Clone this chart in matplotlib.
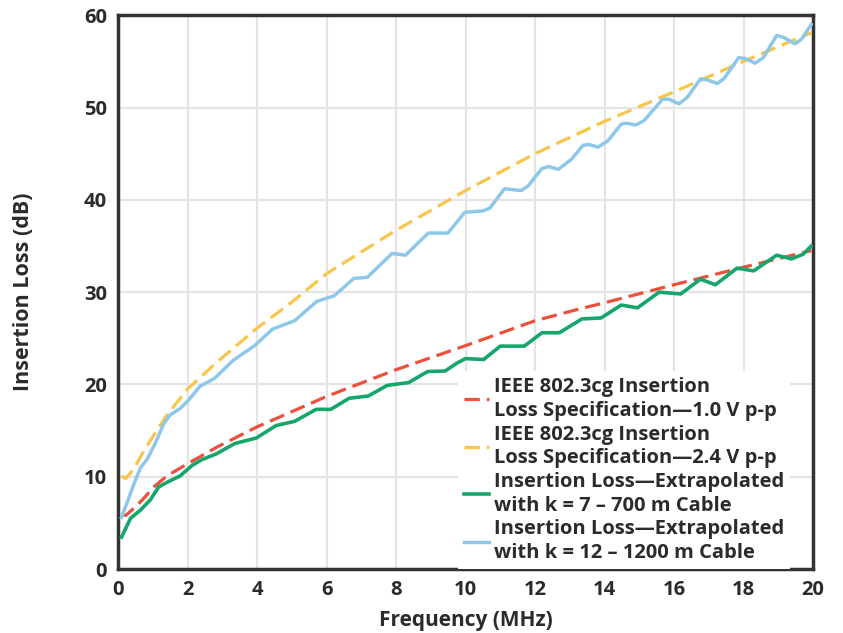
import matplotlib
matplotlib.use("Agg")
import matplotlib.pyplot as plt

plt.rcParams['font.family'] = ['Open Sans', 'DejaVu Sans']

# ---- data ----
red_x = [0.1, 0.22, 0.46, 0.74, 1.03, 1.41, 2.0, 2.84, 4.0, 5.03, 6.0, 8.0, 10.0, 12.0, 13.2, 14.0, 16.0, 18.0, 19.95]
red_y = [6.05, 5.8, 6.6, 7.65, 8.9, 10.1, 11.4, 13.2, 15.4, 17.1, 18.7, 21.6, 24.2, 26.9, 28.1, 28.85, 30.8, 32.7, 34.5]

yel_x = [0.1, 0.22, 0.46, 0.74, 1.03, 1.41, 2.0, 2.84, 4.0, 5.03, 6.0, 8.0, 10.0, 12.0, 14.0, 16.0, 18.0, 19.95]
yel_y = [10.1, 9.8, 10.85, 12.8, 14.5, 16.7, 19.5, 22.4, 26.1, 29.0, 32.0, 36.7, 41.0, 45.0, 48.5, 51.7, 55.0, 58.1]

grn_x = [0.1, 0.36, 0.65, 0.93, 1.17, 1.41, 1.79, 2.12, 2.41, 2.84, 3.36, 3.98, 4.55, 5.08, 5.7, 6.12,
         6.65, 7.2, 7.75, 8.36, 8.91, 9.41, 9.75, 10.0, 10.52, 11.0, 11.69, 12.2, 12.7, 13.35, 13.9,
         14.48, 14.95, 15.57, 16.19, 16.76, 17.19, 17.81, 18.29, 18.95, 19.38, 19.71, 19.95]
grn_y = [3.45, 5.5, 6.4, 7.5, 8.9, 9.4, 10.1, 11.2, 11.85, 12.5, 13.6, 14.2, 15.55, 16.0, 17.3, 17.3,
         18.5, 18.75, 19.9, 20.2, 21.4, 21.45, 22.3, 22.8, 22.7, 24.15, 24.15, 25.6, 25.6, 27.1, 27.2,
         28.6, 28.3, 30.0, 29.8, 31.4, 30.8, 32.6, 32.3, 34.0, 33.6, 34.1, 35.0]

blu_x = [0.1, 0.27, 0.46, 0.65, 0.84, 1.08, 1.31, 1.5, 1.79, 2.03, 2.36, 2.79, 3.31, 3.93, 4.45, 5.08,
         5.72, 6.22, 6.79, 7.17, 7.89, 8.27, 8.93, 9.49, 9.98, 10.5, 10.7, 11.12, 11.6, 11.8, 12.2, 12.4,
         12.67, 13.05, 13.38, 13.55, 13.81, 14.1, 14.48, 14.65, 14.9, 15.14, 15.67, 15.85, 16.14, 16.38,
         16.76, 16.95, 17.24, 17.43, 17.86, 18.05, 18.33, 18.57, 18.95, 19.15, 19.48, 19.67, 19.95]
blu_y = [5.6, 7.3, 9.25, 11.0, 11.9, 13.7, 15.7, 16.7, 17.4, 18.3, 19.8, 20.7, 22.6, 24.2, 26.0, 26.9,
         29.0, 29.6, 31.5, 31.6, 34.2, 34.0, 36.4, 36.4, 38.65, 38.8, 39.1, 41.2, 41.0, 41.5, 43.4, 43.6,
         43.3, 44.4, 45.9, 46.0, 45.7, 46.4, 48.2, 48.3, 48.1, 48.6, 50.9, 50.9, 50.4, 51.1,
         53.1, 53.0, 52.6, 53.1, 55.4, 55.3, 54.8, 55.4, 57.8, 57.6, 56.9, 57.4, 59.0]

labels = ["IEEE 802.3cg Insertion\nLoss Specification\u20141.0 V p-p",
          "IEEE 802.3cg Insertion\nLoss Specification\u20142.4 V p-p",
          "Insertion Loss\u2014Extrapolated\nwith k = 7 \u2013 700 m Cable",
          "Insertion Loss\u2014Extrapolated\nwith k = 12 \u2013 1200 m Cable"]

x_ticks = [0, 2, 4, 6, 8, 10, 12, 14, 16, 18, 20]
y_ticks = [0, 10, 20, 30, 40, 50, 60]

# ---- figure ----
fig = plt.figure(figsize=(8.43, 6.33), dpi=100)
ax = fig.add_axes([0.140, 0.101, 0.8245, 0.875])

lw = 2.3
ax.plot(red_x, red_y, color="#E9513D", lw=lw, dashes=(4.8, 2.2), label=labels[0], zorder=3)
ax.plot(yel_x, yel_y, color="#F9C64C", lw=lw, dashes=(4.8, 2.2), label=labels[1], zorder=3)
ax.plot(grn_x, grn_y, color="#16A56A", lw=lw + 0.3, label=labels[2], zorder=3)
ax.plot(blu_x, blu_y, color="#8DC8EA", lw=lw + 0.2, label=labels[3], zorder=3)

ax.set_xlim(0, 20)
ax.set_ylim(0, 60)
ax.set_xticks(x_ticks)
ax.set_yticks(y_ticks)
ax.grid(True, color="#E4E4E4", lw=1.6, zorder=0)
ax.set_axisbelow(True)
ax.tick_params(length=0, labelsize=14.5, pad=8, colors="#2B2B2B")
for lab in ax.get_xticklabels() + ax.get_yticklabels():
    lab.set_fontweight("bold")
for s in ax.spines.values():
    s.set_linewidth(2.5)
    s.set_color("#333333")

ax.set_xlabel("Frequency (MHz)", fontsize=15, fontweight="bold", color="#2B2B2B", labelpad=7)
ax.set_ylabel("Insertion Loss (dB)", fontsize=15.5, fontweight="bold", color="#2B2B2B", labelpad=36)

leg = ax.legend(loc="lower left", bbox_to_anchor=(0.489, 0.0), frameon=True, framealpha=1.0,
                edgecolor="none", facecolor="white", fancybox=False,
                prop={"size": 14.5, "weight": "bold"}, handlelength=1.25, handletextpad=0.25,
                labelspacing=0.18, borderpad=0.3, borderaxespad=0.0)
leg.set_zorder(5)
for t in leg.get_texts():
    t.set_color("#2B2B2B")
    t.set_linespacing(1.25)

fig.savefig("out.png", dpi=100)
